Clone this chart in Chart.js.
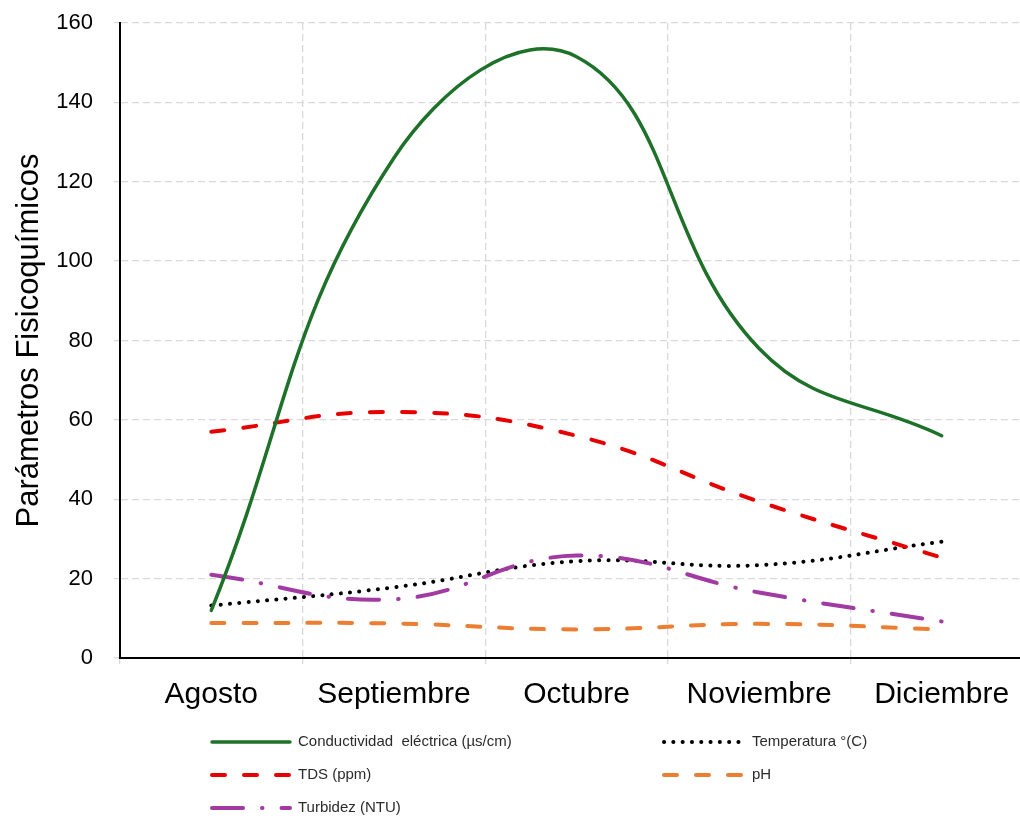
<!DOCTYPE html>
<html>
<head>
<meta charset="utf-8">
<script src="https://cdn.jsdelivr.net/npm/chart.js@4.4.1/dist/chart.umd.min.js"></script>
<style>
  html, body { margin: 0; padding: 0; background: #fff; overflow: hidden; width: 1020px; height: 820px; }
  canvas { display: block; }
</style>
</head>
<body>
<canvas id="grafico" width="1033" height="820"></canvas>
<script>
// Meses de muestreo
const meses = ['Agosto', 'Septiembre', 'Octubre', 'Noviembre', 'Diciembre'];

// Valores mensuales de cada parámetro
const conductividad = [12, 126, 151.5, 78, 56];
const temperatura   = [13.2, 17.8, 24.4, 23.4, 29.3];
const tds           = [57, 62, 56, 39.4, 25.3];
const ph            = [8.8, 8.7, 7.2, 8.6, 7.2];
const turbidez      = [21, 14.8, 25.8, 16.5, 9.2];

// Eje Y
const yMin = 0, yMax = 160, yPaso = 20;

const FUENTE = "'Liberation Sans', Arial, sans-serif";

const series = [
  { label: 'Conductividad  eléctrica (µs/cm)', data: conductividad, color: '#1e7129', width: 3.5, dash: [], cap: 'round' },
  { label: 'TDS (ppm)',        data: tds,         color: '#e60000', width: 4,   dash: [13, 19], cap: 'round' },
  { label: 'Turbidez (NTU)',   data: turbidez,    color: '#a13ba1', width: 4,   dash: [31, 19, 0.5, 19], cap: 'round' },
  { label: 'Temperatura °(C)', data: temperatura, color: '#000000', width: 4,   dash: [0.1, 9.2], cap: 'round' },
  { label: 'pH',               data: ph,          color: '#ed7d31', width: 4,   dash: [13, 19], cap: 'round' }
];

// Leyenda en dos columnas bajo el gráfico
const leyenda = {
  id: 'leyenda',
  afterDraw(chart) {
    const ctx = chart.ctx;
    const filas = [742, 775, 808];
    const colIzq = { x0: 212, x1: 290, tx: 298 };
    const colDer = { x0: 664, x1: 741, tx: 752 };
    const disposicion = [
      { s: 0, col: colIzq, fila: 0 },
      { s: 3, col: colDer, fila: 0 },
      { s: 1, col: colIzq, fila: 1 },
      { s: 4, col: colDer, fila: 1 },
      { s: 2, col: colIzq, fila: 2 }
    ];
    ctx.save();
    disposicion.forEach(d => {
      const s = series[d.s];
      const y = filas[d.fila];
      ctx.beginPath();
      ctx.strokeStyle = s.color;
      ctx.lineWidth = s.width;
      ctx.lineCap = s.cap;
      ctx.setLineDash(s.dash);
      ctx.moveTo(d.col.x0, y);
      ctx.lineTo(d.col.x1, y);
      ctx.stroke();
      ctx.setLineDash([]);
      ctx.fillStyle = '#2b2b2b';
      ctx.font = '15px ' + FUENTE;
      ctx.textBaseline = 'middle';
      ctx.textAlign = 'left';
      ctx.fillText(s.label, d.col.tx, y);
    });
    ctx.restore();
  }
};

new Chart(document.getElementById('grafico'), {
  type: 'line',
  data: {
    labels: meses,
    datasets: series.map(s => ({
      label: s.label,
      data: s.data,
      borderColor: s.color,
      backgroundColor: s.color,
      borderWidth: s.width,
      borderDash: s.dash,
      borderCapStyle: s.cap,
      borderJoinStyle: 'round',
      pointRadius: 0,
      tension: 0.42,
      fill: false
    }))
  },
  options: {
    responsive: false,
    animation: false,
    devicePixelRatio: 1,
    layout: { padding: { top: 23, right: 0, bottom: 0, left: 0 } },
    plugins: { legend: { display: false }, tooltip: { enabled: false } },
    scales: {
      x: {
        type: 'category',
        offset: true,
        afterFit(scale) {
          scale.height = 162;
          scale.paddingLeft = 0;
          scale.paddingRight = 0;
        },
        grid: {
          offset: true,
          color: '#d9d9d9',
          lineWidth: 1.3,
          tickLength: 6,
          tickColor: '#d9d9d9',
          tickBorderDash: [7, 4]
        },
        border: { display: true, color: '#000000', width: 2, dash: [7, 4] },
        ticks: {
          color: '#000000',
          font: { family: FUENTE, size: 30 },
          padding: 13,
          maxRotation: 0
        }
      },
      y: {
        min: yMin,
        max: yMax,
        afterFit(scale) {
          scale.width = 120;
          scale.paddingTop = 0;
          scale.paddingBottom = 0;
        },
        grid: {
          color: '#d9d9d9',
          lineWidth: 1.3,
          tickLength: 6,
          tickColor: '#d9d9d9',
          tickBorderDash: [7, 4]
        },
        border: { display: true, color: '#000000', width: 2, dash: [7, 4] },
        ticks: {
          stepSize: yPaso,
          color: '#000000',
          font: { family: FUENTE, size: 22 },
          padding: 21
        },
        title: {
          display: true,
          text: 'Parámetros Fisicoquímicos',
          color: '#000000',
          font: { family: FUENTE, size: 31 },
          padding: { top: 11, bottom: 0 }
        }
      }
    }
  },
  plugins: [leyenda]
});
</script>
</body>
</html>
